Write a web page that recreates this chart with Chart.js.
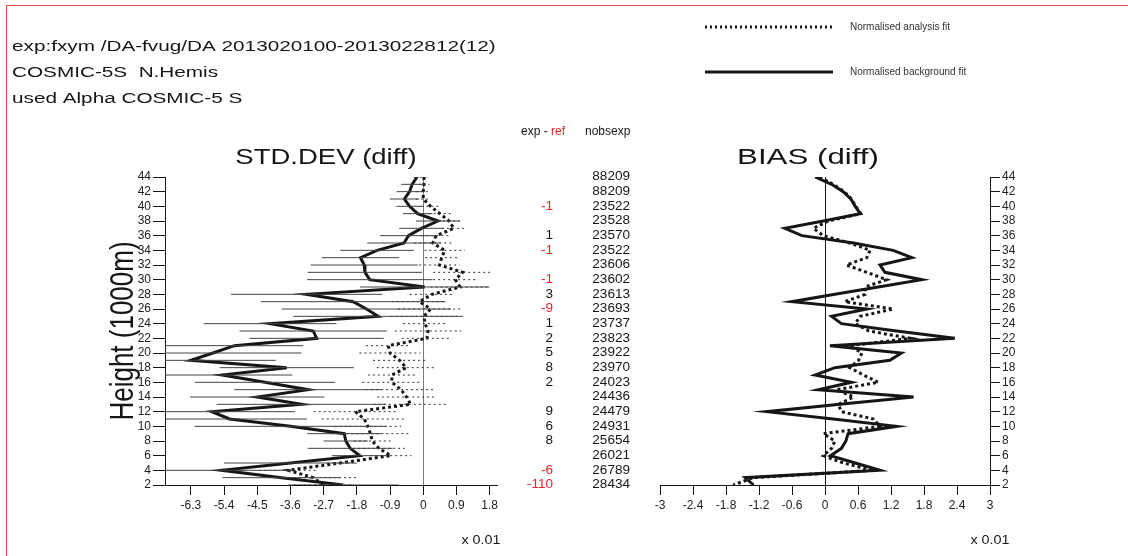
<!DOCTYPE html>
<html>
<head>
<meta charset="utf-8">
<script src="https://cdn.jsdelivr.net/npm/chart.js@4.4.1/dist/chart.umd.min.js"></script>
<style>
  body { margin: 0; background: #fff; }
  #wrap { position: relative; width: 1128px; height: 556px; overflow: hidden; }
  canvas { position: absolute; left: 0; top: 0; }
  #frame { position: absolute; left: 6px; top: 5px; width: 1200px; height: 600px;
           border-left: 1px solid #e5474f; border-top: 1px solid #e5474f; }
</style>
</head>
<body>
<div id="wrap">
  <div id="frame"></div>
  <canvas id="stdChart" width="1128" height="556"></canvas>
  <canvas id="biasChart" width="1128" height="556"></canvas>
</div>
<script>
// ===== DATA =====
const heights = [44, 43, 42, 41, 40, 39, 38, 37, 36, 35, 34, 33, 32, 31, 30, 29, 28, 27, 26, 25, 24, 23,
                 22, 21, 20, 19, 18, 17, 16, 15, 14, 13, 12, 11, 10, 9, 8, 7, 6, 5, 4, 3, 2];

// STD.DEV (diff), background fit (solid) and analysis fit (dotted)
const stdBg = [-0.17, -0.30, -0.37, -0.51, -0.37, -0.15, 0.40, -0.05, -0.40, -0.52, -1.25, -1.70, -1.60, -1.58,
               -1.45, 0.04, -3.16, -1.90, -1.54, -1.22, -4.15, -2.98, -2.89, -5.12, -5.70, -6.30, -3.70, -5.45,
               -4.29, -3.12, -4.50, -3.30, -5.73, -5.25, -3.60, -2.14, -2.10, -1.98, -1.72, -3.60, -5.46, -3.84, -2.17];
const stdBgErr = [0.10, 0.30, 0.35, 0.40, 0.36, 0.40, 0.60, 0.60, 0.77, 1.00, 1.00, 1.05, 1.45, 1.55,
                  1.70, 1.75, 2.05, 2.50, 2.30, 2.30, 1.80, 2.00, 1.82, 1.87, 2.40, 2.30, 1.82, 1.90,
                  1.90, 2.00, 1.82, 2.30, 2.25, 2.10, 2.60, 1.00, 0.60, 1.15, 0.75, 1.80, 1.90, 1.60, 1.50];
const stdAn = [0.02, 0.02, 0.00, 0.00, 0.20, 0.45, 0.70, 0.83, 0.35, 0.26, 0.58, 0.50, 0.44, 1.07,
               0.87, 1.00, 0.24, -0.10, 0.20, 0.02, 0.05, 0.13, 0.10, -0.95, -0.90, -0.64, -0.46, -0.85,
               -0.85, -0.60, -0.45, -0.34, -1.84, -1.60, -1.50, -1.43, -1.38, -1.20, -0.88, -2.25, -3.66, -2.98, -2.70];
const stdAnErr = [0.10, 0.15, 0.20, 0.20, 0.25, 0.30, 0.30, 0.32, 0.40, 0.50, 0.55, 0.45, 0.55, 0.80,
                  0.60, 0.80, 0.60, 0.75, 0.88, 0.90, 0.60, 0.90, 0.68, 0.60, 0.83, 0.72, 0.80, 0.65,
                  0.80, 0.95, 0.80, 1.00, 1.13, 1.15, 0.90, 1.06, 0.50, 0.70, 0.56, 0.35, 0.80, 1.20, 0.80];

// BIAS (diff)
const biasBg = [-0.18, 0.12, 0.33, 0.47, 0.55, 0.64, -0.03, -0.73, -0.42, 0.52, 1.24, 1.58, 1.00, 1.09,
                1.76, 0.97, 0.18, -0.60, 0.76, 0.12, 0.30, 1.30, 2.36, 0.09, 1.39, 1.18, 0.18, -0.18,
                0.48, -0.12, 1.61, 0.27, -1.06, 0.15, 1.30, 0.42, 0.38, 0.30, 0.10, 0.55, 1.00, -1.45, -1.30];
const biasAn = [-0.10, 0.15, 0.35, 0.48, 0.56, 0.65, 0.06, -0.21, -0.03, 0.45, 0.82, 0.76, 0.39, 0.76,
                1.12, 0.73, 0.73, 0.36, 1.24, 0.64, 0.55, 0.80, 1.55, 0.45, 0.67, 0.61, 0.45, 0.70,
                0.97, 0.21, 0.52, 0.24, 0.30, 0.88, 1.00, -0.03, 0.18, 0.12, -0.03, 0.33, 0.88, -1.30, -1.67];

// middle columns, one per even height
const colHeights = [44, 42, 40, 38, 36, 34, 32, 30, 28, 26, 24, 22, 20, 18, 16, 14, 12, 10, 8, 6, 4, 2];
const expRef = ['', '', '-1', '', '1', '-1', '', '-1', '3', '-9', '1', '2', '5', '8', '2', '', '9', '6', '8', '', '-6', '-110'];
const nobsExp = [88209, 88209, 23522, 23528, 23570, 23522, 23606, 23602, 23613, 23693, 23737, 23823,
                 23922, 23970, 24023, 24436, 24479, 24931, 25654, 26021, 26789, 28434];

// tick labels
const stdTicks = [-6.3, -5.4, -4.5, -3.6, -2.7, -1.8, -0.9, 0, 0.9, 1.8];
const biasTicks = [-3, -2.4, -1.8, -1.2, -0.6, 0, 0.6, 1.2, 1.8, 2.4, 3];

const headerLines = ['exp:fxym /DA-fvug/DA 2013020100-2013022812(12)', 'COSMIC-5S  N.Hemis', 'used Alpha COSMIC-5 S'];

// ===== HELPERS =====
Chart.defaults.font.family = "'Liberation Sans', Arial, sans-serif";
Chart.defaults.color = '#222';

const INK = '#161616';
const RED = '#e8202a';

function profile(values) {
    return heights.map((h, i) => ({ x: values[i], y: h }));
}

function errorBars(values, errs) {
    const pts = [];
    heights.forEach((h, i) => {
        pts.push({ x: values[i] - errs[i], y: h }, { x: values[i] + errs[i], y: h }, { x: null, y: null });
    });
    return pts;
}

function fmt(v) {
    return String(+v.toFixed(1));
}

function drawText(ctx, text, x, y, o) {
    ctx.save();
    ctx.font = o.font;
    ctx.fillStyle = o.color || INK;
    ctx.textBaseline = 'middle';
    ctx.textAlign = o.align || 'left';
    ctx.translate(x, y);
    if (o.rotate) ctx.rotate(o.rotate);
    ctx.scale(o.sx || 1, o.sy || 1);
    ctx.fillText(text, 0, 0);
    ctx.restore();
}

function zeroLine(color) {
    return {
        id: 'zeroLine',
        beforeDatasetsDraw(chart) {
            const { ctx, chartArea } = chart;
            const x = Math.round(chart.scales.x.getPixelForValue(0)) + 0.5;
            ctx.save();
            ctx.strokeStyle = color;
            ctx.lineWidth = 1;
            ctx.beginPath();
            ctx.moveTo(x, chartArea.top);
            ctx.lineTo(x, chartArea.bottom);
            ctx.stroke();
            ctx.restore();
        }
    };
}

function xAxis(ticks, min, max) {
    return {
        type: 'linear',
        min: min,
        max: max,
        afterBuildTicks: (s) => { s.ticks = ticks.map(v => ({ value: v })); },
        afterFit: (s) => { s.height = 30; },
        ticks: { callback: (v) => fmt(v), autoSkip: false, maxRotation: 0, padding: 3, font: { size: 12 } },
        grid: { drawOnChartArea: false, tickLength: 10, color: INK },
        border: { color: INK, width: 1 }
    };
}

function yAxis(position, width, tickLength) {
    return {
        type: 'linear',
        position: position,
        min: 2,
        max: 44,
        afterFit: (s) => { s.width = width; },
        ticks: { stepSize: 2, autoSkip: false, padding: 2, font: { size: 12 } },
        grid: { drawOnChartArea: false, tickLength: tickLength, color: INK },
        border: { color: INK, width: 1 }
    };
}

const baseOptions = {
    responsive: false,
    animation: false,
    plugins: { legend: { display: false }, tooltip: { enabled: false }, title: { display: false } },
    elements: { point: { radius: 0 } }
};

// ===== STD.DEV CHART =====
const stdText = {
    id: 'stdText',
    afterDraw(chart) {
        const ctx = chart.ctx;
        const y = chart.scales.y;
        headerLines.forEach((t, i) => drawText(ctx, t, 12, 47 + i * 26, { font: '14px Liberation Sans', sx: 1.48 }));
        drawText(ctx, 'STD.DEV (diff)', 326, 158, { font: '22px Liberation Sans', align: 'center', sx: 1.25 });
        drawText(ctx, 'Height (1000m)', 124, 331, { font: '26px Liberation Sans', align: 'center', rotate: -Math.PI / 2, sy: 1.3 });
        drawText(ctx, 'x 0.01', 481, 541, { font: '12px Liberation Sans', align: 'center', sx: 1.2 });

        // exp - ref header
        ctx.save();
        ctx.font = '12px Liberation Sans';
        const w = ctx.measureText('exp - ').width;
        ctx.restore();
        drawText(ctx, 'exp - ', 521, 132, { font: '12px Liberation Sans' });
        drawText(ctx, 'ref', 521 + w, 132, { font: '12px Liberation Sans', color: RED });
        drawText(ctx, 'nobsexp', 585, 132, { font: '12px Liberation Sans' });

        colHeights.forEach((h, i) => {
            const py = y.getPixelForValue(h);
            if (expRef[i]) {
                const neg = expRef[i].startsWith('-');
                drawText(ctx, expRef[i], 553, py, { font: '12px Liberation Sans', align: 'right', sx: 1.13, color: neg ? RED : INK });
            }
            drawText(ctx, String(nobsExp[i]), 630, py, { font: '12px Liberation Sans', align: 'right', sx: 1.13 });
        });
    }
};

new Chart(document.getElementById('stdChart'), {
    type: 'scatter',
    data: {
        datasets: [
            { data: errorBars(stdBg, stdBgErr), showLine: true, spanGaps: false, borderColor: '#444', borderWidth: 1 },
            { data: errorBars(stdAn, stdAnErr), showLine: true, spanGaps: false, borderColor: '#333', borderWidth: 1, borderDash: [2, 3] },
            { data: profile(stdAn), showLine: true, borderColor: INK, borderWidth: 3, borderDash: [3, 3] },
            { data: profile(stdBg), showLine: true, borderColor: INK, borderWidth: 3, borderJoinStyle: 'miter' }
        ]
    },
    options: {
        ...baseOptions,
        layout: { padding: { left: 0, right: 1128 - 497, top: 177, bottom: 41 } },
        scales: { x: xAxis(stdTicks, -7, 2), y: yAxis('left', 165, 12) }
    },
    plugins: [zeroLine('#7a7a7a'), stdText]
});

// ===== BIAS CHART =====
const biasText = {
    id: 'biasText',
    afterDraw(chart) {
        const ctx = chart.ctx;
        drawText(ctx, 'BIAS (diff)', 808, 158, { font: '22px Liberation Sans', align: 'center', sx: 1.42 });
        drawText(ctx, 'x 0.01', 990, 541, { font: '12px Liberation Sans', align: 'center', sx: 1.2 });

        // legend
        ctx.save();
        ctx.strokeStyle = INK;
        ctx.lineWidth = 3;
        ctx.setLineDash([2, 3]);
        ctx.beginPath();
        ctx.moveTo(705, 27);
        ctx.lineTo(833, 27);
        ctx.stroke();
        ctx.setLineDash([]);
        ctx.beginPath();
        ctx.moveTo(705, 72);
        ctx.lineTo(833, 72);
        ctx.stroke();
        ctx.restore();
        drawText(ctx, 'Normalised analysis fit', 850, 27, { font: '10px Liberation Sans', color: '#333' });
        drawText(ctx, 'Normalised background fit', 850, 72, { font: '10px Liberation Sans', color: '#333' });
    }
};

new Chart(document.getElementById('biasChart'), {
    type: 'scatter',
    data: {
        datasets: [
            { data: profile(biasAn), showLine: true, borderColor: INK, borderWidth: 3, borderDash: [3, 3] },
            { data: profile(biasBg), showLine: true, borderColor: INK, borderWidth: 3, borderJoinStyle: 'miter' }
        ]
    },
    options: {
        ...baseOptions,
        layout: { padding: { left: 660, right: 1128 - 990 - 40, top: 177, bottom: 41 } },
        scales: { x: xAxis(biasTicks, -3, 3), y: yAxis('right', 40, 10) }
    },
    plugins: [zeroLine(INK), biasText]
});
</script>
</body>
</html>
